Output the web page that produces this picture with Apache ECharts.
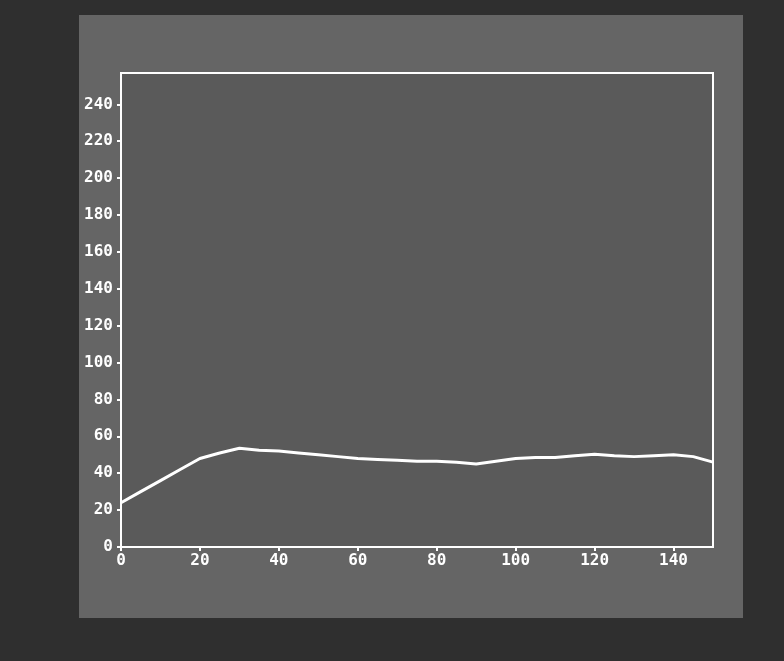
<!DOCTYPE html>
<html>
<head>
<meta charset="utf-8">
<script src="https://cdn.jsdelivr.net/npm/echarts@6/dist/echarts.min.js"></script>
<style>html,body{margin:0;padding:0;background:#2f2f2f}#c{width:784px;height:661px}</style>
</head>
<body>
<div id="c"></div>
<script>
const xValues = [0, 5, 10, 15, 20, 25, 30, 35, 40, 45, 50, 55, 60, 65, 70, 75, 80, 85, 90, 95, 100, 105, 110, 115, 120, 125, 130, 135, 140, 145, 150];
const yValues = [24, 30, 36, 42, 48, 51, 53.5, 52.5, 52, 51, 50, 49, 48, 47.5, 47, 46.5, 46.5, 46, 45, 46.5, 48, 48.5, 48.5, 49.5, 50.3, 49.5, 49, 49.5, 50, 49, 46];
const yTicks = [0, 20, 40, 60, 80, 100, 120, 140, 160, 180, 200, 220, 240];
const xTicks = [0, 20, 40, 60, 80, 100, 120, 140];

const data = xValues.map((x, i) => [x, yValues[i]]);
const labelFont = { color: '#ffffff', fontFamily: 'DejaVu Sans Mono', fontWeight: 'bold', fontSize: 16 };

const chart = echarts.init(document.getElementById('c'));
chart.setOption({
  backgroundColor: '#2f2f2f',
  animation: false,
  graphic: [{
    type: 'rect', z: -10, silent: true,
    shape: { x: 79, y: 15, width: 664, height: 603 },
    style: { fill: '#656565' }
  }],
  grid: {
    left: 121, top: 73, right: 71, bottom: 114,
    show: true, backgroundColor: '#5a5a5a', borderColor: '#ffffff', borderWidth: 2
  },
  xAxis: {
    type: 'value', min: 0, max: 150, interval: 20,
    axisLine: { lineStyle: { color: '#ffffff', width: 2 } },
    axisTick: { show: true, length: 4, lineStyle: { color: '#ffffff', width: 2 } },
    splitLine: { show: false },
    axisLabel: Object.assign({ margin: 6, showMaxLabel: false,
      formatter: v => xTicks.includes(v) ? String(v) : '' }, labelFont)
  },
  yAxis: {
    type: 'value', min: 0, max: 257, interval: 20,
    axisLine: { show: true, lineStyle: { color: '#ffffff', width: 2 } },
    axisTick: { show: true, length: 4, lineStyle: { color: '#ffffff', width: 2 } },
    splitLine: { show: false },
    axisLabel: Object.assign({ margin: 8, showMaxLabel: false,
      formatter: v => yTicks.includes(v) ? String(v) : '' }, labelFont)
  },
  series: [{
    type: 'line', data: data, showSymbol: false, symbol: 'none',
    lineStyle: { color: '#ffffff', width: 3 }
  }]
});
</script>
</body>
</html>
